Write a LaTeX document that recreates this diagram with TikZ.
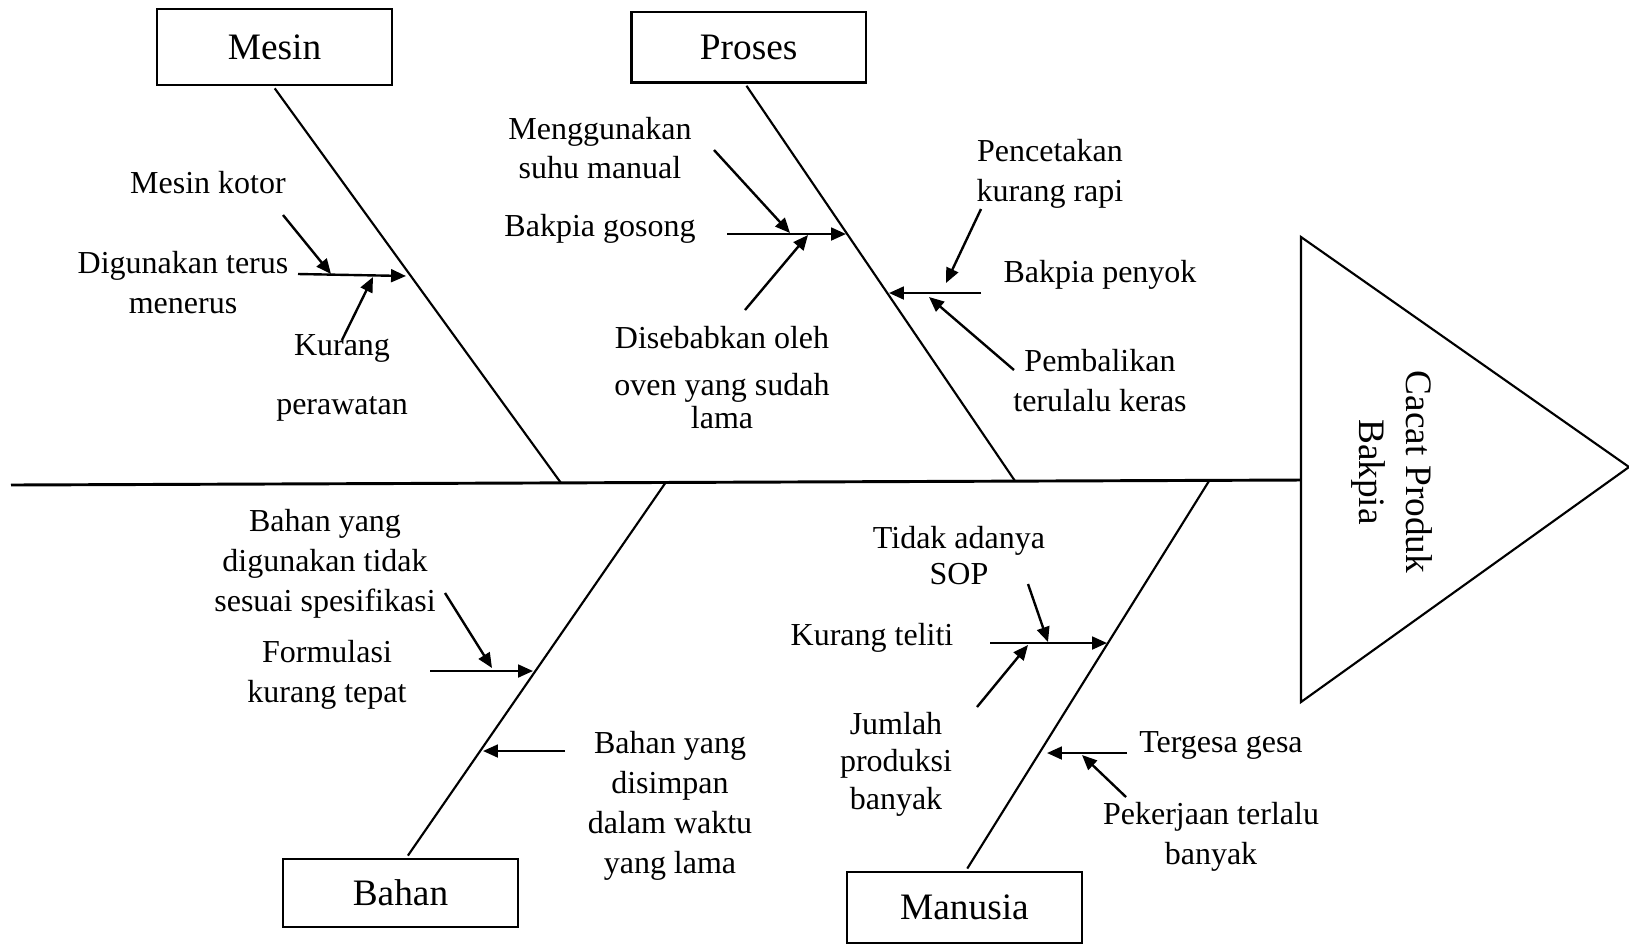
\documentclass[tikz,border=0pt]{standalone}
\usepackage{fontspec}
\setmainfont{Liberation Serif}
\usetikzlibrary{arrows.meta}
\tikzset{
  every node/.style={font=\fontsize{12}{15}\selectfont},
  bone/.style={line width=0.8pt},
  spine/.style={line width=1.1pt},
  arr/.style={-{Triangle[length=5.6pt, width=4.8pt]}, line width=0.9pt},
  catBox/.style={draw, line width=0.9pt, minimum width=88pt, minimum height=27pt,
                 inner sep=0pt, font=\fontsize{14}{17}\selectfont},
  lbl/.style={align=center, inner sep=0pt},
}

\begin{document}
\begin{tikzpicture}[x=0.375pt, y=-0.375pt]
  \useasboundingbox (0,0) rectangle (1629,944);

  % spine and head
  \coordinate (spL) at (11,485);
  \coordinate (spR) at (1301,480);
  \coordinate (hdTop) at (1301,237);
  \coordinate (hdBot) at (1301,702);
  \coordinate (hdTip) at (1629,467);
  \draw[spine] (spL) -- (spR);
  \draw[bone] (hdTop) -- (hdTip) -- (hdBot) -- cycle;
  \node[lbl, rotate=-90, font=\fontsize{14}{17.6}\selectfont] (effect) at (1392,472) {Cacat Produk\\Bakpia};

  % Mesin
  \node[catBox, minimum height=28.5pt] (mesin) at (274.5,47) {Mesin};
  \coordinate (mEnd) at (561,483);
  \draw[bone, shorten <=1pt] ([xshift=-0.5pt]mesin.south) -- (mEnd);
  \node[lbl] (mKotor) at (208,183) {Mesin kotor};
  \node[lbl] (mTerus) at (183,283) {Digunakan terus\\menerus};
  \node[lbl] (mRawat) at (342,378) {Kurang\\[7pt]perawatan};
  \coordinate (mA0) at (298,274); \coordinate (mA1) at (406,276);
  \coordinate (mK0) at (283,215); \coordinate (mK1) at (331,274);
  \coordinate (mP0) at (342,340); \coordinate (mP1) at (373,277);
  \draw[arr] (mA0) -- (mA1);
  \draw[arr] (mK0) -- (mK1);
  \draw[arr] (mP0) -- (mP1);

  % Proses
  \node[catBox, minimum height=26.3pt] (proses) at (748.7,47.3) {Proses};
  \coordinate (pEnd) at (1015,481);
  \draw[bone, shorten <=1pt] ([xshift=-1.4pt]proses.south) -- (pEnd);
  \node[lbl] (pSuhu) at (600,148) {Menggunakan\\[-0.6pt]suhu manual};
  \node[lbl] (pGosong) at (600,229) {Bakpia gosong};
  \node[lbl] (pOven) at (722,378) {Disebabkan oleh\\[2.6pt]oven yang sudah\\[-2.6pt]lama};
  \coordinate (pA0) at (727,234); \coordinate (pA1) at (846,234);
  \coordinate (pM0) at (714,150); \coordinate (pM1) at (790,233);
  \coordinate (pD0) at (745,310); \coordinate (pD1) at (808,235);
  \draw[arr] (pA0) -- (pA1);
  \draw[arr] (pM0) -- (pM1);
  \draw[arr] (pD0) -- (pD1);
  \node[lbl] (pCetak) at (1050,174) {Pencetakan\\kurang rapi};
  \node[lbl] (pPenyok) at (1100,275) {Bakpia penyok};
  \node[lbl] (pBalik) at (1100,381) {Pembalikan\\terulalu keras};
  \coordinate (pB0) at (981,293); \coordinate (pB1) at (889,293);
  \coordinate (pC0) at (981,209); \coordinate (pC1) at (946,283);
  \coordinate (pE0) at (1014,370); \coordinate (pE1) at (929,297);
  \draw[arr] (pB0) -- (pB1);
  \draw[arr] (pC0) -- (pC1);
  \draw[arr] (pE0) -- (pE1);

  % Bahan
  \node[catBox, minimum height=25.5pt] (bahan) at (400.5,893) {Bahan};
  \coordinate (bEnd) at (666,482);
  \draw[bone, shorten <=1pt] ([xshift=2.2pt]bahan.north) -- (bEnd);
  \node[lbl] (bSpek) at (325,564) {Bahan yang\\digunakan tidak\\sesuai spesifikasi};
  \node[lbl] (bFormula) at (327,675) {Formulasi\\kurang tepat};
  \node[lbl] (bSimpan) at (670,806) {Bahan yang\\disimpan\\dalam waktu\\yang lama};
  \coordinate (bF0) at (430,671); \coordinate (bF1) at (533,671);
  \coordinate (bS0) at (445,593); \coordinate (bS1) at (492,668);
  \coordinate (bW0) at (565,751); \coordinate (bW1) at (483,751);
  \draw[arr] (bF0) -- (bF1);
  \draw[arr] (bS0) -- (bS1);
  \draw[arr] (bW0) -- (bW1);

  % Manusia
  \node[catBox, minimum height=26.6pt] (manusia) at (964.5,907.5) {Manusia};
  \coordinate (uEnd) at (1209,481);
  \draw[bone, shorten <=1pt] ([xshift=0.5pt]manusia.north) -- (uEnd);
  \node[lbl] (uSop) at (959,556) {Tidak adanya\\[-1.5pt]SOP};
  \node[lbl] (uTeliti) at (872,638) {Kurang teliti};
  \node[lbl] (uJumlah) at (896,764) {Jumlah\\[-1pt]produksi\\[-1pt]banyak};
  \node[lbl] (uGesa) at (1221,745) {Tergesa gesa};
  \node[lbl] (uKerja) at (1211,837) {Pekerjaan terlalu\\banyak};
  \coordinate (uK0) at (990,643); \coordinate (uK1) at (1107,643);
  \coordinate (uS0) at (1028,584); \coordinate (uS1) at (1048,642);
  \coordinate (uJ0) at (977,707); \coordinate (uJ1) at (1028,645);
  \coordinate (uT0) at (1127,753); \coordinate (uT1) at (1047,753);
  \coordinate (uP0) at (1126,797); \coordinate (uP1) at (1082,755);
  \draw[arr] (uK0) -- (uK1);
  \draw[arr] (uS0) -- (uS1);
  \draw[arr] (uJ0) -- (uJ1);
  \draw[arr] (uT0) -- (uT1);
  \draw[arr] (uP0) -- (uP1);
\end{tikzpicture}
\end{document}
